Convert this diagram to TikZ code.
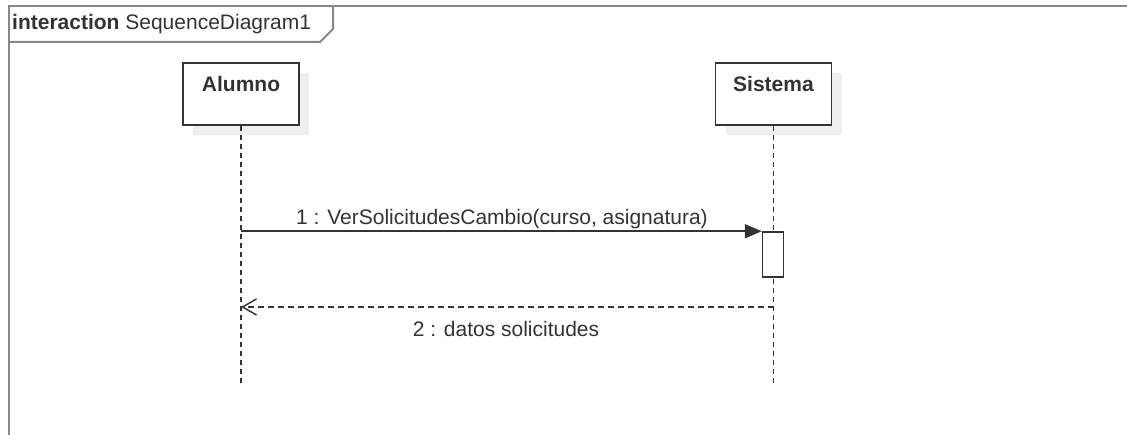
\documentclass[tikz,border=0pt]{standalone}
\usepackage{fontspec}
\setmainfont{Liberation Sans}
\usetikzlibrary{arrows.meta,shadows}
\definecolor{ink}{HTML}{333333}
\definecolor{framegray}{HTML}{888888}
\definecolor{shade}{HTML}{EFEFEF}
\begin{document}
\begin{tikzpicture}[x=1pt,y=-1pt,
  every node/.style={font=\fontsize{21}{24}\selectfont, text=ink, inner sep=0pt},
  framestyle/.style={draw=framegray, line width=2pt},
  lifebox/.style={draw=ink, line width=1.5pt, fill=white, minimum width=116pt, minimum height=62pt,
    drop shadow={shadow xshift=10pt, shadow yshift=-10pt, fill=shade, opacity=1}},
  lifeline/.style={draw=ink, line width=1.2pt, dash pattern=on 5pt off 4pt},
  actbox/.style={draw=ink, line width=1.5pt, fill=white, minimum width=21pt, minimum height=45pt},
  callmsg/.style={draw=ink, line width=1.8pt, -{Triangle[length=17pt,width=14pt]}},
  replymsg/.style={draw=ink, line width=1.5pt, dash pattern=on 6pt off 4pt,
    -{Straight Barb[length=14pt,width=16pt,line width=1.5pt]}}
]
\useasboundingbox (0,0) rectangle (1127,435);

% interaction frame and its name tab
\draw[framestyle] (8.5,435) -- (8.5,6.5) -- (1127,6.5);
\draw[framestyle] (8.5,42) -- (320,42) -- (333,29) -- (333,6.5);
\node[anchor=west] (title) at (12,24) {\textbf{interaction} SequenceDiagram1};

% lifeline heads
\node[lifebox] (alumno) at (241,94) {};
\node (alumnoT) at (241,84) {\textbf{Alumno}};
\node[lifebox] (sistema) at (773.5,94) {};
\node (sistemaT) at (773.5,84) {\textbf{Sistema}};

% lifelines
\coordinate (alumnoEnd) at (241,386);
\coordinate (sistemaEnd) at (773.5,386);
\draw[lifeline] (alumno.south) -- (alumnoEnd);
\draw[lifeline] (sistema.south) -- (sistemaEnd);

% activation on Sistema
\node[actbox] (act) at (773,254.5) {};

% call message
\draw[callmsg] (alumno.south |- act.north west) -- (act.north west);
\node (m1) at (502,219) {1 : VerSolicitudesCambio(curso, asignatura)};

% reply message
\coordinate (ret) at (773.5,307);
\draw[replymsg] (ret) -- (alumno.south |- ret);
\node (m2) at (506,329) {2 : datos solicitudes};
\end{tikzpicture}
\end{document}
